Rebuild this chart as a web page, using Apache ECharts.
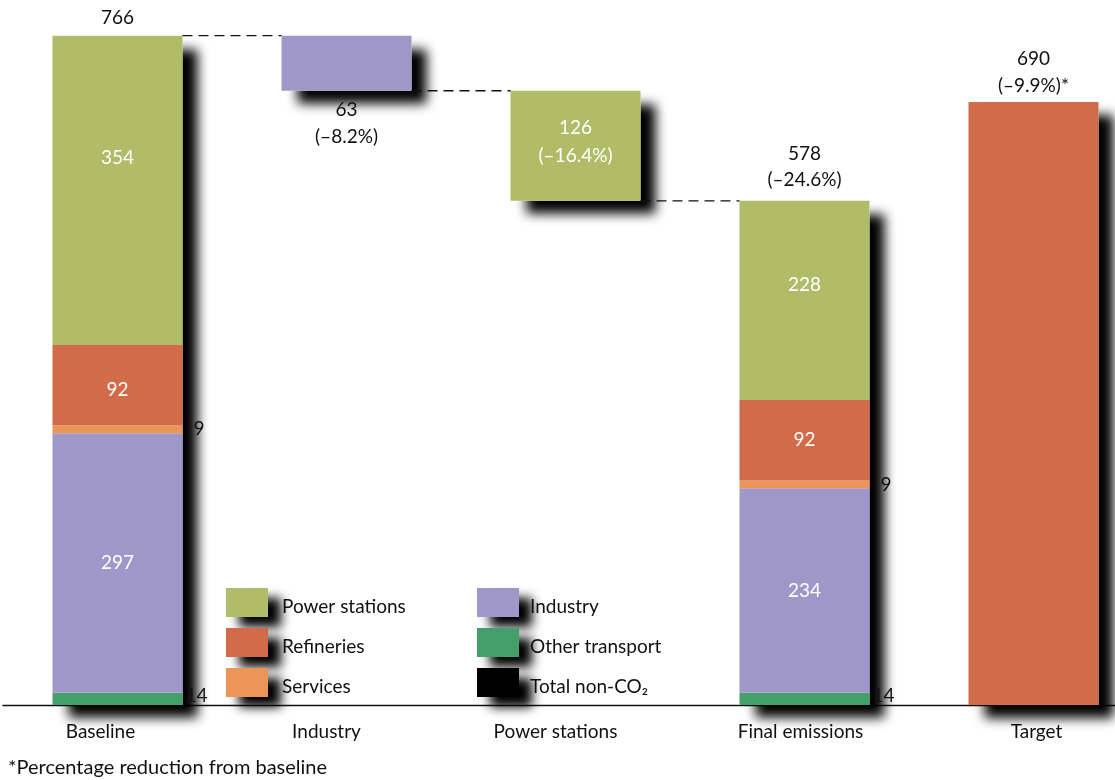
<!DOCTYPE html>
<html>
<head>
<meta charset="utf-8">
<script src="https://cdn.jsdelivr.net/npm/echarts@6/dist/echarts.min.js"></script>
<style>
  html, body { margin: 0; padding: 0; background: #ffffff; overflow: hidden; }
  #chart { width: 1150px; height: 780px; }
</style>
</head>
<body>
<div id="chart"></div>
<script>
// Emissions bridge: baseline by sector, reductions, final emissions and target
const categories = ['Baseline', 'Industry', 'Power stations', 'Final emissions', 'Target'];
const otherTransport = [14, null, null, 14, null];
const industry = [297, 63, null, 234, null];
const services = [9, null, null, 9, null];
const refineries = [92, null, null, 92, null];
const powerStations = [354, null, 126, 228, null];
const targetValues = [null, null, null, null, 690];
const isReductionStep = [false, true, true, false, false];
const headlineValues = ['766', '63', '126', '578', '690'];
const reductionLabels = ['', '(–8.2%)', '(–16.4%)', '(–24.6%)', '(–9.9%)*'];
const footnote = '*Percentage reduction from baseline';

const FONT = 'Lato, "Open Sans", sans-serif';
const COLORS = {
  power: '#B0BC67',
  refineries: '#D26B4A',
  services: '#EC9558',
  industry: '#A097C9',
  transport: '#459F6A',
  nonCO2: '#000000'
};
const SHADOW = { shadowColor: 'rgba(0,0,0,1)', shadowBlur: 11, shadowOffsetX: 15, shadowOffsetY: 13 };

// Column totals and the invisible lift under each reduction step
const segments = [otherTransport, industry, services, refineries, powerStations, targetValues];
const columnTotal = categories.map((_, i) => segments.reduce((s, arr) => s + (arr[i] || 0), 0));
const floatBase = categories.map(() => 0);
const connectorLevels = [];
let level = columnTotal[0];
connectorLevels.push(level);
for (let i = 1; i < categories.length; i++) {
  if (!isReductionStep[i]) break;
  level -= columnTotal[i];
  floatBase[i] = level;
  connectorLevels.push(level);
}

const BAR_W = 130;
const insideLabel = { show: true, position: 'inside', color: '#ffffff', fontFamily: FONT, fontSize: 19, lineHeight: 28 };
const outsideRight = { show: true, position: 'right', color: '#111111', fontFamily: FONT, fontSize: 19 };

function seriesData(values, labelFor) {
  return values.map((v, i) => {
    if (v == null) return '-';
    const item = { value: v };
    const lab = labelFor ? labelFor(v, i) : null;
    if (lab) item.label = lab;
    return item;
  });
}

function barSeries(name, values, color, labelFor) {
  return {
    name: name,
    type: 'bar',
    stack: 'main',
    barWidth: BAR_W,
    barGap: '-100%',
    itemStyle: { color: color },
    label: { show: false },
    data: seriesData(values, labelFor)
  };
}

const series = [
  // shadow layer: one blurred block per column, drawn underneath the coloured stack
  {
    name: 'lift-shadow', type: 'bar', stack: 'shadow', barWidth: BAR_W, barGap: '-100%',
    itemStyle: { color: 'rgba(0,0,0,0)' }, silent: true,
    data: floatBase.slice()
  },
  {
    name: 'column-shadow', type: 'bar', stack: 'shadow', barWidth: BAR_W, barGap: '-100%',
    itemStyle: Object.assign({ color: '#ffffff' }, SHADOW), silent: true,
    data: columnTotal.map((v, i) => {
      const item = { value: v };
      if (i === 0 || i === 3) {
        item.label = {
          show: true, position: 'top', distance: i === 0 ? 5 : 8, color: '#111111',
          fontFamily: FONT, fontSize: 19, lineHeight: 26,
          formatter: reductionLabels[i] ? headlineValues[i] + '\n' + reductionLabels[i] : headlineValues[i]
        };
      }
      return item;
    })
  },
  // coloured stack
  {
    name: 'lift', type: 'bar', stack: 'main', barWidth: BAR_W, barGap: '-100%',
    itemStyle: { color: 'rgba(0,0,0,0)' }, silent: true,
    data: floatBase.slice()
  },
  barSeries('Other transport', otherTransport, COLORS.transport,
    () => Object.assign({}, outsideRight, { distance: 3, offset: [0, -3] })),
  barSeries('Industry', industry, COLORS.industry, (v, i) => {
    if (isReductionStep[i]) {
      return {
        show: true, position: 'bottom', distance: 6, color: '#111111',
        fontFamily: FONT, fontSize: 19, lineHeight: 27,
        formatter: headlineValues[i] + '\n' + reductionLabels[i]
      };
    }
    return insideLabel;
  }),
  barSeries('Services', services, COLORS.services, () => Object.assign({}, outsideRight, { distance: 11 })),
  barSeries('Refineries', refineries, COLORS.refineries,
    (v, i) => Object.assign({}, insideLabel, i === 0 ? { offset: [0, 5] } : {})),
  barSeries('Power stations', powerStations, COLORS.power, (v, i) => {
    if (isReductionStep[i]) {
      return Object.assign({}, insideLabel, { offset: [0, -4], formatter: headlineValues[i] + '\n' + reductionLabels[i] });
    }
    return Object.assign({}, insideLabel, { offset: [0, i === 0 ? -32 : -16] });
  }),
  barSeries('Target', targetValues, COLORS.refineries, (v, i) => ({
    show: true, position: 'top', distance: 3, color: '#111111',
    fontFamily: FONT, fontSize: 19, lineHeight: 27,
    formatter: headlineValues[i] + '\n' + reductionLabels[i]
  })),
  { name: 'Total non-CO₂', type: 'bar', stack: 'main', barWidth: BAR_W, barGap: '-100%',
    itemStyle: { color: COLORS.nonCO2 }, data: [] },
  // dashed connectors running from one bar edge to the next at each step level
  {
    name: 'connectors', type: 'custom', silent: true, z: 3,
    data: connectorLevels.map((lv, i) => [i, lv]),
    renderItem: function (params, api) {
      const i = api.value(0);
      const lv = api.value(1);
      const p0 = api.coord([i, lv]);
      const p1 = api.coord([i + 1, lv]);
      const half = BAR_W / 2;
      return {
        type: 'line',
        shape: { x1: p0[0] + half, y1: p0[1], x2: p1[0] - half, y2: p1[1] },
        style: { stroke: '#111111', lineWidth: 1.3, lineDash: [10, 6] }
      };
    }
  }
];

function legendText(leftPad) {
  return {
    color: '#111111', fontFamily: FONT, fontSize: 19,
    rich: {
      t: { color: '#111111', fontFamily: FONT, fontSize: 19, padding: [9, 0, 0, leftPad] }
    }
  };
}

const legendCommon = {
  orient: 'vertical',
  top: 588,
  padding: 0,
  itemWidth: 42,
  itemHeight: 29,
  itemGap: 11,
  icon: 'rect',
  selectedMode: false,
  formatter: name => '{t|' + name + '}',
  itemStyle: { borderWidth: 0, shadowColor: 'rgba(0,0,0,1)', shadowBlur: 11, shadowOffsetX: 13, shadowOffsetY: 10 }
};

const chart = echarts.init(document.getElementById('chart'), null, { renderer: 'canvas' });
chart.setOption({
  animation: false,
  backgroundColor: '#ffffff',
  textStyle: { fontFamily: FONT },
  grid: { left: 3, top: 6, width: 1145, height: 699, containLabel: false },
  legend: [
    Object.assign({}, legendCommon, {
      left: 226,
      data: ['Power stations', 'Refineries', 'Services'],
      textStyle: legendText(9)
    }),
    Object.assign({}, legendCommon, {
      left: 477,
      data: ['Industry', 'Other transport', 'Total non-CO₂'],
      textStyle: legendText(6)
    })
  ],
  xAxis: {
    type: 'category',
    data: categories,
    axisLine: { show: true, lineStyle: { color: '#111111', width: 1.4 } },
    axisTick: { show: false },
    axisLabel: {
      margin: 17,
      color: '#111111',
      fontFamily: FONT,
      fontSize: 19,
      formatter: (value, idx) => '{c' + idx + '|' + value + '}',
      rich: {
        c0: { fontFamily: FONT, fontSize: 19, color: '#111111', padding: [0, 34, 0, 0] },
        c1: { fontFamily: FONT, fontSize: 19, color: '#111111', padding: [0, 40, 0, 0] },
        c2: { fontFamily: FONT, fontSize: 19, color: '#111111', padding: [0, 40, 0, 0] },
        c3: { fontFamily: FONT, fontSize: 19, color: '#111111', padding: [0, 8, 0, 0] },
        c4: { fontFamily: FONT, fontSize: 19, color: '#111111', padding: [0, 0, 0, 6] }
      }
    }
  },
  yAxis: {
    type: 'value',
    min: 0,
    max: 800,
    show: false,
    splitLine: { show: false }
  },
  graphic: [
    {
      type: 'text',
      left: 8,
      top: 758,
      style: { text: footnote, fill: '#111111', font: '20px ' + FONT }
    }
  ],
  series: series
});
</script>
</body>
</html>
